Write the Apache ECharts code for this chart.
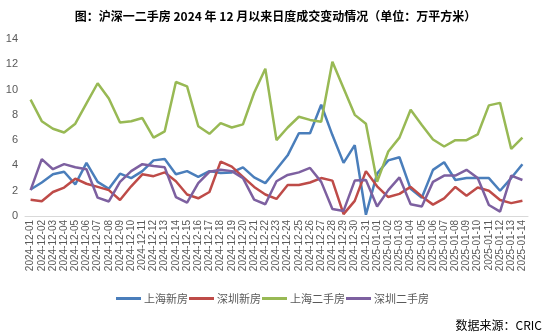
<!DOCTYPE html>
<html><head><meta charset="utf-8">
<script src="https://cdn.jsdelivr.net/npm/echarts@6/dist/echarts.min.js"></script>
<style>html,body{margin:0;padding:0;background:#fff}#c{width:551px;height:335px}</style>
</head><body><div id="c"></div>
<script>
const dates = ["2024-12-01","2024-12-02","2024-12-03","2024-12-04","2024-12-05","2024-12-06","2024-12-07","2024-12-08","2024-12-09","2024-12-10","2024-12-11","2024-12-12","2024-12-13","2024-12-14","2024-12-15","2024-12-16","2024-12-17","2024-12-18","2024-12-19","2024-12-20","2024-12-21","2024-12-22","2024-12-23","2024-12-24","2024-12-25","2024-12-26","2024-12-27","2024-12-28","2024-12-29","2024-12-30","2024-12-31","2025-01-01","2025-01-02","2025-01-03","2025-01-04","2025-01-05","2025-01-06","2025-01-07","2025-01-08","2025-01-09","2025-01-10","2025-01-11","2025-01-12","2025-01-13","2025-01-14"];
const shNew = [2.1,2.65,3.3,3.5,2.5,4.2,2.7,2.15,3.35,3.0,3.55,4.4,4.5,3.3,3.55,3.1,3.55,3.4,3.45,3.85,3.05,2.6,3.7,4.8,6.55,6.55,8.8,6.4,4.2,5.6,0.1,3.35,4.4,4.65,2.15,1.45,3.65,4.25,2.85,3.0,3.0,3.0,2.0,3.0,4.1];
const szNew = [1.28,1.17,1.9,2.25,2.95,2.55,2.3,2.05,1.27,2.35,3.3,3.15,3.45,2.75,1.7,1.4,1.9,4.3,3.9,3.1,2.3,1.7,1.35,2.45,2.45,2.65,3.0,2.8,0.15,1.2,3.55,2.35,1.5,1.75,2.3,1.55,0.9,1.4,2.3,1.6,2.25,2.0,1.27,1.02,1.2];
const shSecond = [9.2,7.5,6.9,6.6,7.3,8.9,10.5,9.3,7.4,7.5,7.75,6.2,6.7,10.6,10.25,7.1,6.5,7.35,7.0,7.25,9.75,11.65,6.0,7.0,7.85,7.6,7.45,12.2,10.1,8.0,7.3,2.7,5.1,6.2,8.4,7.2,6.05,5.5,6.0,6.0,6.45,8.75,8.95,5.3,6.2];
const szSecond = [2.05,4.5,3.7,4.1,3.85,3.7,1.45,1.15,2.7,3.55,4.1,3.95,3.85,1.5,1.05,2.6,3.5,3.65,3.55,3.0,1.3,0.93,2.75,3.25,3.45,3.8,2.7,0.55,0.4,2.8,2.85,0.75,2.05,3.05,0.93,0.75,2.7,3.2,3.2,3.65,3.0,0.87,0.35,3.2,2.85];
const names = ["上海新房","深圳新房","上海二手房","深圳二手房"];
const colors = ["#4A7EBB","#BE4B48","#98B954","#7D60A0"];
const yTicks = [0,2,4,6,8,10,12,14];

const chart = echarts.init(document.getElementById('c'));
const seriesData = [shNew, szNew, shSecond, szSecond];
chart.setOption({
  animation: false,
  title: {
    text: "图：沪深一二手房 2024 年 12 月以来日度成交变动情况（单位：万平方米）",
    left: 'center', top: 5,
    textStyle: {fontSize: 12, fontWeight: 'bold', color: '#000', fontFamily: '"Noto Sans CJK SC", sans-serif'}
  },
  graphic: [{
    type: 'text', right: 9, top: 319,
    style: {text: '数据来源：CRIC', fontSize: 12, fill: '#000', fontFamily: '"Noto Sans CJK SC", sans-serif'}
  }],
  legend: {
    data: names, left: 111, top: 288,
    icon: 'rect', itemWidth: 25, itemHeight: 3, itemGap: 1,
    textStyle: {fontSize: 11, color: '#595959', padding: [0,0,0,-2], fontFamily: '"Noto Sans CJK SC", sans-serif'}
  },
  grid: {left: 25, right: 23, top: 39, bottom: 119, containLabel: false},
  xAxis: {
    type: 'category', data: dates, boundaryGap: true,
    axisLine: {lineStyle: {color: '#D9D9D9'}},
    axisTick: {show: false},
    axisLabel: {rotate: 90, interval: 0, fontSize: 10, color: '#595959', margin: 4, fontFamily: 'Liberation Sans, sans-serif'}
  },
  yAxis: {
    type: 'value', min: yTicks[0], max: yTicks[yTicks.length-1], interval: 2,
    splitLine: {show: false},
    axisLine: {show: false}, axisTick: {show: false},
    axisLabel: {fontSize: 11, color: '#595959', margin: 7, fontFamily: 'Liberation Sans, sans-serif'}
  },
  series: names.map((n, i) => ({
    name: n, type: 'line', data: seriesData[i],
    symbol: 'none', lineStyle: {width: 2.5, color: colors[i]},
    itemStyle: {color: colors[i]}
  }))
});
</script></body></html>
